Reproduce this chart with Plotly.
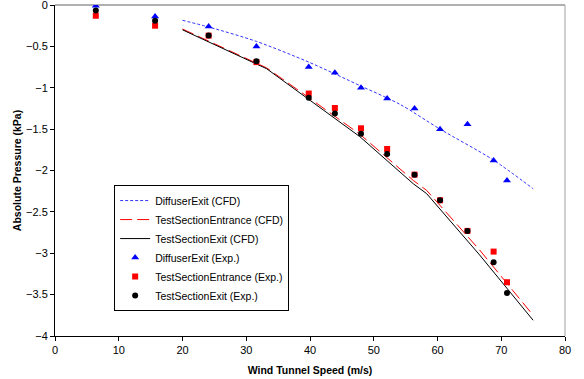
import plotly.graph_objects as go

# Experimental data
speed_exp = [6.4, 15.7, 24.1, 31.6, 39.8, 43.9, 48.0, 52.1, 56.4, 60.4, 64.7, 68.8, 70.9]
diffuser_exp = [-0.01, -0.14, -0.26, -0.50, -0.75, -0.82, -1.00, -1.13, -1.25, -1.50, -1.44, -1.88, -2.12]
entrance_exp = [-0.13, -0.25, -0.37, -0.69, -1.07, -1.245, -1.49, -1.74, -2.05, -2.36, -2.73, -2.98, -3.35]
exit_exp = [-0.065, -0.19, -0.37, -0.68, -1.12, -1.31, -1.555, -1.80, -2.05, -2.36, -2.73, -3.11, -3.48]

# CFD data
speed_cfd_diff = [20, 24.3, 31.6, 39.8, 48.0, 54.1, 60.4, 68.7, 75]
diffuser_cfd = [-0.185, -0.27, -0.44, -0.69, -0.98, -1.20, -1.50, -1.87, -2.22]
speed_cfd_ts = [20, 33.2, 38.9, 47.8, 56.2, 58.3, 66.6, 75]
entrance_cfd = [-0.29, -0.76, -1.07, -1.56, -2.12, -2.24, -2.96, -3.75]
exit_cfd = [-0.30, -0.77, -1.09, -1.59, -2.16, -2.28, -3.02, -3.81]

x_ticks = [0, 10, 20, 30, 40, 50, 60, 70, 80]
y_ticks = [0, -0.5, -1, -1.5, -2, -2.5, -3, -3.5, -4]

fig = go.Figure()
fig.add_trace(go.Scatter(x=speed_cfd_diff, y=diffuser_cfd, mode="lines",
                         name="DiffuserExit (CFD)",
                         line=dict(color="#3333ff", width=1, dash="3px,2px",
                                   shape="spline", smoothing=0.8)))
fig.add_trace(go.Scatter(x=speed_cfd_ts, y=entrance_cfd, mode="lines",
                         name="TestSectionEntrance (CFD)",
                         line=dict(color="#ff0000", width=1, dash="12px,5px")))
fig.add_trace(go.Scatter(x=speed_cfd_ts, y=exit_cfd, mode="lines",
                         name="TestSectionExit (CFD)",
                         line=dict(color="#000000", width=1)))
fig.add_trace(go.Scatter(x=speed_exp, y=diffuser_exp, mode="markers",
                         name="DiffuserExit (Exp.)",
                         marker=dict(symbol="triangle-up", color="#0000ff", size=7)))
fig.add_trace(go.Scatter(x=speed_exp, y=entrance_exp, mode="markers",
                         name="TestSectionEntrance (Exp.)",
                         marker=dict(symbol="square", color="#ff0000", size=6)))
fig.add_trace(go.Scatter(x=speed_exp, y=exit_exp, mode="markers",
                         name="TestSectionExit (Exp.)",
                         marker=dict(symbol="circle", color="#000000", size=6)))

font_family = "Liberation Sans, Arial, sans-serif"
fig.update_layout(
    width=584, height=379,
    margin=dict(l=55, r=19, t=5, b=43),
    paper_bgcolor="white", plot_bgcolor="white",
    font=dict(family=font_family, size=11, color="black"),
    showlegend=True,
    legend=dict(x=0.116, y=0.456, xanchor="left", yanchor="top",
                bgcolor="white", bordercolor="black", borderwidth=1,
                font=dict(size=10.5, family=font_family),
                tracegroupgap=0, itemwidth=30),
    xaxis=dict(range=[0, 80], tickvals=x_ticks, ticks="outside", ticklen=4,
               tickcolor="black", showline=True, linecolor="black", linewidth=1,
               showgrid=False, zeroline=False, ticklabeloverflow="allow",
               automargin=False,
               title=dict(text="<b>Wind Tunnel Speed (m/s)</b>", font=dict(size=10.5), standoff=11)),
    yaxis=dict(range=[-4, 0], tickvals=y_ticks, ticks="outside", ticklen=4,
               tickcolor="black", showline=True, linecolor="black", linewidth=1,
               showgrid=False, zeroline=False, ticklabeloverflow="allow",
               automargin=False,
               title=dict(text="<b>Absolute Pressure (kPa)</b>", font=dict(size=10.5), standoff=2)),
    shapes=[
        dict(type="line", xref="paper", yref="paper", x0=0, x1=1, y0=1, y1=1,
             line=dict(color="#b0b0b0", width=2), layer="below"),
        dict(type="line", xref="paper", yref="paper", x0=1, x1=1, y0=0, y1=1,
             line=dict(color="#a0a0a0", width=1), layer="below"),
    ],
)

fig.write_html("out.html")
